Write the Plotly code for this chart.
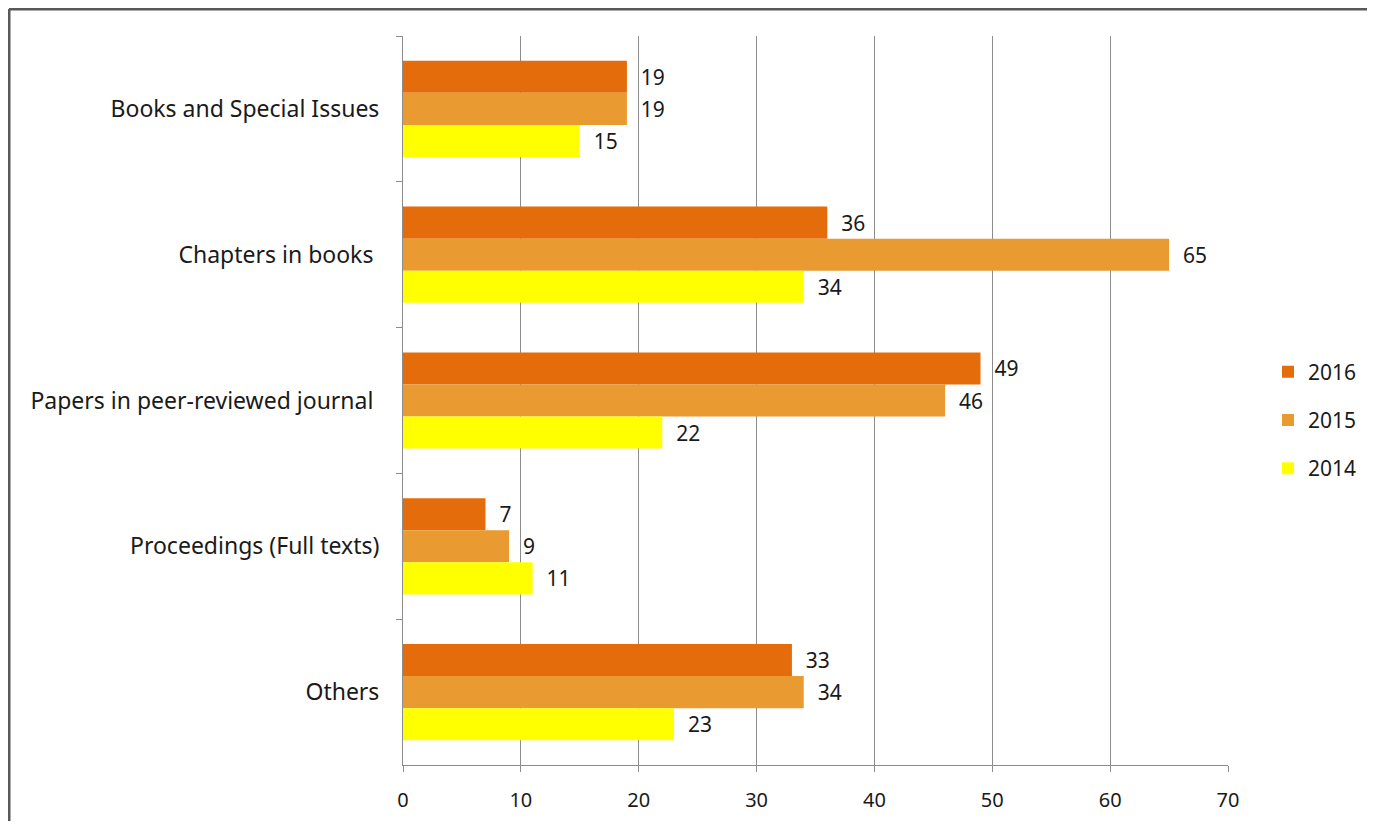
import plotly.graph_objects as go

categories = ["Books and Special Issues", "Chapters in books ", "Papers in peer-reviewed journal ",
              "Proceedings (Full texts)", "Others"]
years = ["2016", "2015", "2014"]
values_2016 = [19, 36, 49, 7, 33]
values_2015 = [19, 65, 46, 9, 34]
values_2014 = [15, 34, 22, 11, 23]
colors = ["#E46C0A", "#E99A30", "#FFFF00"]

FONT = "Noto Sans"
TXT = "#1a1a1a"
fig = go.Figure()
for i, (name, vals) in enumerate(zip(years, [values_2016, values_2015, values_2014])):
    fig.add_trace(go.Bar(
        y=categories, x=vals, name=name, orientation="h",
        marker=dict(color=colors[i], line=dict(width=0)),
        text=vals, texttemplate="  %{x}", textposition="outside",
        textfont=dict(family=FONT, size=21, color=TXT),
        cliponaxis=False, legendgroup=name,
    ))

# page has an 8px body margin, so the figure sits at (8, 8) in the window
W, H = 1359, 813
L, R, T, B = 395, 139, 28, 56
pw, ph = W - L - R, H - T - B

fig.update_layout(
    width=W, height=H,
    margin=dict(l=L, r=R, t=T, b=B, autoexpand=False),
    paper_bgcolor="white", plot_bgcolor="white",
    barmode="group", bargap=0.34, bargroupgap=0,
    font=dict(family=FONT, size=20, color=TXT),
    legend=dict(xref="container", yref="container",
                x=1260 / W, y=1 - 412 / H, xanchor="left", yanchor="middle",
                font=dict(family=FONT, size=21, color=TXT),
                tracegroupgap=18, itemwidth=30),
    showlegend=True,
    shapes=[
        dict(type="line", xref="paper", yref="paper",
             x0=(1 - L) / pw, x1=(W + 5 - L) / pw, y0=1 + (T - 1) / ph, y1=1 + (T - 1) / ph,
             line=dict(color="#595959", width=3)),
        dict(type="line", xref="paper", yref="paper",
             x0=(1 - L) / pw, x1=(1 - L) / pw, y0=1 + (T - 1) / ph, y1=-(B + 5) / ph,
             line=dict(color="#595959", width=3)),
    ],
)
fig.update_xaxes(range=[0, 70], dtick=10, showgrid=True, gridcolor="#8C8C8C", gridwidth=1,
                 showline=True, linecolor="#8C8C8C", linewidth=1,
                 ticks="outside", ticklen=6, tickcolor="#8C8C8C", ticklabelstandoff=11,
                 tickfont=dict(family=FONT, size=20, color=TXT), zeroline=False)
fig.update_yaxes(autorange="reversed", showline=True, linecolor="#8C8C8C", linewidth=1,
                 ticks="outside", tickson="boundaries", ticklen=6, tickcolor="#8C8C8C",
                 ticklabelstandoff=18,
                 tickfont=dict(family=FONT, size=23, color=TXT), showgrid=False)

fig.write_html("out.html")
